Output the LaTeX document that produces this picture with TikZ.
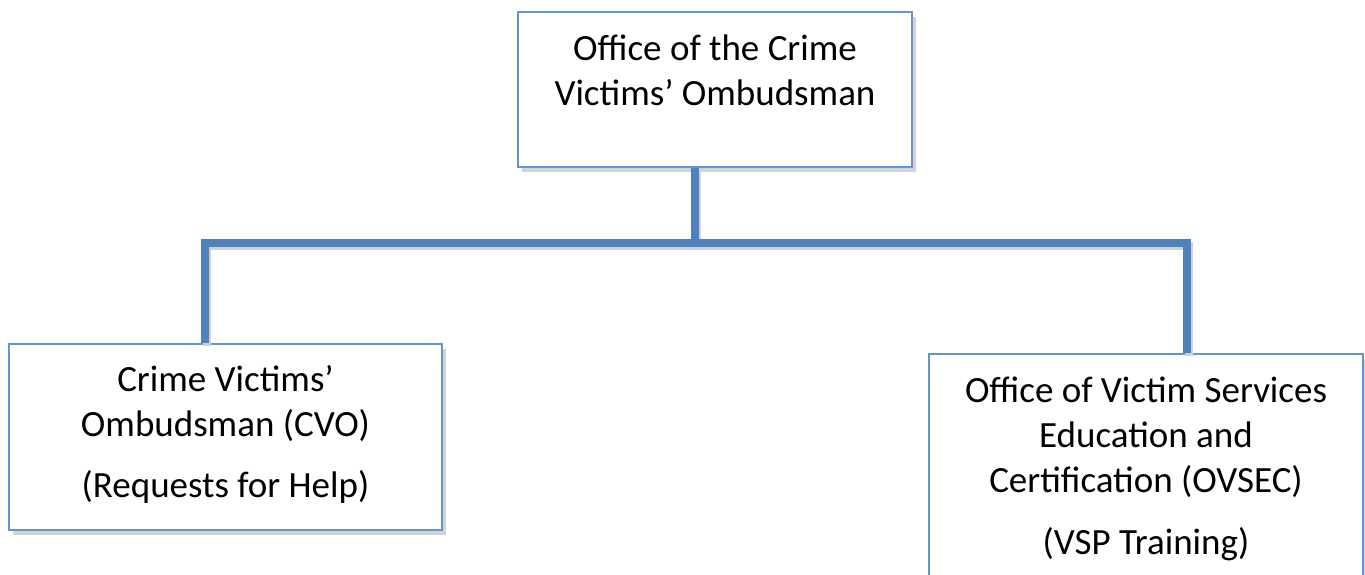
\documentclass[tikz,border=0pt]{standalone}
\usepackage{fontspec}
\setmainfont{Carlito}
\usetikzlibrary{shadows}

\definecolor{boxblue}{RGB}{98,148,214}
\definecolor{lineblue}{RGB}{79,129,189}

\tikzset{
  orgbox/.style={draw=boxblue, line width=1pt, fill=white, inner sep=0pt,
    drop shadow={shadow xshift=2pt, shadow yshift=-2.5pt, opacity=0.35}},
  orgline/.style={draw=lineblue, line width=4pt, line join=miter,
    preaction={draw=black!18, line width=4pt, transform canvas={shift={(1pt,-1.5pt)}}}}
}
\newcommand{\boxtext}[4]{\parbox[c][#2][t]{#1}{\centering\fontsize{18.5}{22.5}\selectfont\rule{0pt}{#3}#4\par}}

\begin{document}
\begin{tikzpicture}[x=0.5pt, y=-0.5pt]
\useasboundingbox (0,0) rectangle (1365,574);

% bus of the chart
\coordinate (trunk) at (695,243);
\coordinate (busL) at (205,243);
\coordinate (busR) at (1187,243);

\node [orgbox] (cvoo) at (715,89.5)
  {\boxtext{197pt}{77.5pt}{24pt}{Office of the Crime\\Victims’ Ombudsman}};
\node [orgbox] (cvo) at (225.5,437)
  {\boxtext{216.5pt}{93pt}{23.5pt}{Crime Victims’\\Ombudsman (CVO)\\[8pt](Requests for Help)}};
\node [orgbox] (ovsec) at (1146,487)
  {\boxtext{217pt}{133pt}{24pt}{Office of Victim Services\\Education and\\Certification (OVSEC)\\[8.5pt](VSP Training)}};

\draw [orgline] (cvoo.south -| trunk) -- (trunk);
\draw [orgline] (cvo.north -| busL) -- (busL) -- (busR) -- (ovsec.north -| busR);
\end{tikzpicture}
\end{document}
